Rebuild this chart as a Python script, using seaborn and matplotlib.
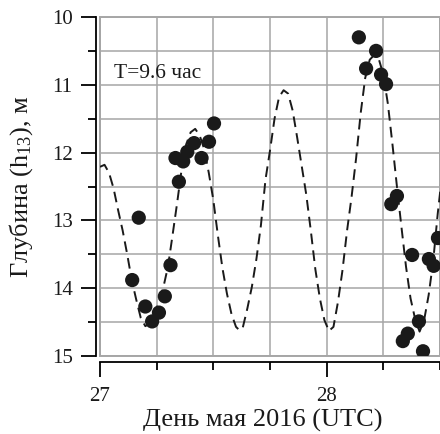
import numpy as np
import pandas as pd
import matplotlib
matplotlib.use("Agg")
import matplotlib.pyplot as plt
import seaborn as sns
from matplotlib.ticker import MultipleLocator, FixedLocator
from matplotlib.patches import Rectangle

# observed depths (points)
obs_day = [27.142, 27.171, 27.200, 27.230, 27.260, 27.286, 27.311, 27.333, 27.348,
           27.367, 27.385, 27.415, 27.448, 27.481, 27.503,
           28.142, 28.174, 28.218, 28.240, 28.262, 28.285, 28.310, 28.377, 28.451,
           28.472, 28.491, 28.407, 28.358, 28.336, 28.425]
obs_depth = [13.88, 12.96, 14.27, 14.49, 14.36, 14.12, 13.66, 12.08, 12.43,
             12.13, 11.99, 11.86, 12.08, 11.84, 11.57,
             10.30, 10.76, 10.50, 10.85, 10.99, 12.76, 12.64, 13.51, 13.57,
             13.67, 13.26, 14.49, 14.67, 14.78, 14.93]

# model curve (dashed)
model_day = [27.00, 27.02, 27.04, 27.06, 27.08, 27.10, 27.12, 27.14, 27.16, 27.18,
             27.20, 27.22, 27.24, 27.26, 27.28, 27.30, 27.32, 27.34, 27.36, 27.38,
             27.40, 27.42, 27.44, 27.46, 27.48, 27.50, 27.52, 27.54, 27.56, 27.58,
             27.60, 27.615, 27.63, 27.65, 27.67, 27.69, 27.71, 27.73, 27.75, 27.77,
             27.79, 27.81, 27.83, 27.85, 27.87, 27.89, 27.91, 27.93, 27.95, 27.97,
             27.99, 28.01, 28.03, 28.05, 28.07, 28.09, 28.11, 28.13, 28.15, 28.17,
             28.19, 28.21, 28.23, 28.25, 28.27, 28.29, 28.31, 28.33, 28.35, 28.37,
             28.39, 28.41, 28.43, 28.45, 28.47, 28.49, 28.51]
model_depth = [12.21, 12.18, 12.30, 12.53, 12.85, 13.15, 13.50, 13.88, 14.17, 14.44,
               14.56, 14.52, 14.38, 14.20, 13.98, 13.68, 13.22, 12.75, 12.25, 11.88,
               11.70, 11.65, 11.75, 11.95, 12.30, 12.70, 13.22, 13.70, 14.08, 14.38,
               14.57, 14.62, 14.58, 14.30, 13.98, 13.57, 13.07, 12.40, 11.97, 11.50,
               11.18, 11.08, 11.13, 11.38, 11.78, 12.20, 12.62, 13.15, 13.72, 14.15,
               14.47, 14.63, 14.57, 14.20, 13.73, 13.15, 12.65, 12.08, 11.42, 10.90,
               10.63, 10.56, 10.62, 10.85, 11.28, 11.87, 12.50, 13.10, 13.68, 14.15,
               14.45, 14.64, 14.47, 14.10, 13.60, 12.90, 12.30]

y_ticks = [10, 11, 12, 13, 14, 15]
x_ticks = [27, 28]
x_tick_labels = ["27", "28"]
annotation = "T=9.6 час"
x_label = "День мая 2016 (UTC)"
y_label = r"Глубина (h$_{\mathrm{13}}$), м"

sns.set_theme(style="white")
plt.rcParams['font.family'] = ['Liberation Serif', 'DejaVu Serif']
plt.rcParams['mathtext.fontset'] = 'custom'
plt.rcParams['mathtext.rm'] = 'Liberation Serif'
plt.rcParams['mathtext.it'] = 'Liberation Serif:italic'

fig = plt.figure(figsize=(4.4, 4.34), dpi=100)
ax = fig.add_axes([100 / 440, 1 - 356 / 434, 340 / 440, (356 - 17) / 434])

model = pd.DataFrame({"day": model_day, "depth": model_depth})
obs = pd.DataFrame({"day": obs_day, "depth": obs_depth})

sns.lineplot(data=model, x="day", y="depth", ax=ax, color="#1a1a1a",
             lw=1.4, sort=False, zorder=2)
ax.lines[-1].set_dashes((5.5, 3.2))
sns.scatterplot(data=obs, x="day", y="depth", ax=ax, s=105, color="#1a1a1a",
                edgecolor="none", linewidth=0, zorder=3)

ax.set_xlim(27, 28.5)
ax.set_ylim(15, 10)

ax.xaxis.set_major_locator(FixedLocator(x_ticks))
ax.set_xticklabels(x_tick_labels)
ax.xaxis.set_minor_locator(MultipleLocator(0.25))
ax.yaxis.set_major_locator(FixedLocator(y_ticks))
ax.yaxis.set_minor_locator(MultipleLocator(0.5))

ax.grid(which="both", color="#a6a6a6", lw=1.1)
ax.set_axisbelow(True)

for s in ["top", "right"]:
    ax.spines[s].set_visible(False)
ax.spines["left"].set_position(("outward", 3.2))
ax.spines["bottom"].set_position(("outward", 4.3))
ax.spines["left"].set_bounds(10, 15)
for s in ["left", "bottom"]:
    ax.spines[s].set_color("black")
    ax.spines[s].set_linewidth(1.3)

ax.add_patch(Rectangle((0, 0), 1, 1, transform=ax.transAxes, fill=False,
                       ec="#a6a6a6", lw=1.4, clip_on=False, zorder=1))

ax.tick_params(which="major", direction="out", length=10.5, width=1.3,
               color="black", labelsize=15, labelcolor="#1a1a1a")
ax.tick_params(axis="y", which="major", pad=6)
ax.tick_params(axis="x", which="major", pad=7.5)
ax.tick_params(which="minor", direction="out", length=6, width=1.3,
               color="black")
ax.tick_params(axis="x", which="both", bottom=True)
ax.tick_params(axis="y", which="both", left=True)

ax.text(27.062, 10.83, annotation, ha="left", va="center", fontsize=15.5,
        color="#1a1a1a", zorder=4)

ax.set_xlabel(x_label, fontsize=19, color="#1a1a1a")
ax.xaxis.set_label_coords(0.479, -0.157)
ax.set_ylabel(y_label, fontsize=19, color="#1a1a1a")
ax.yaxis.set_label_coords(-0.19, 0.5)

fig.savefig("out.png", dpi=100)
